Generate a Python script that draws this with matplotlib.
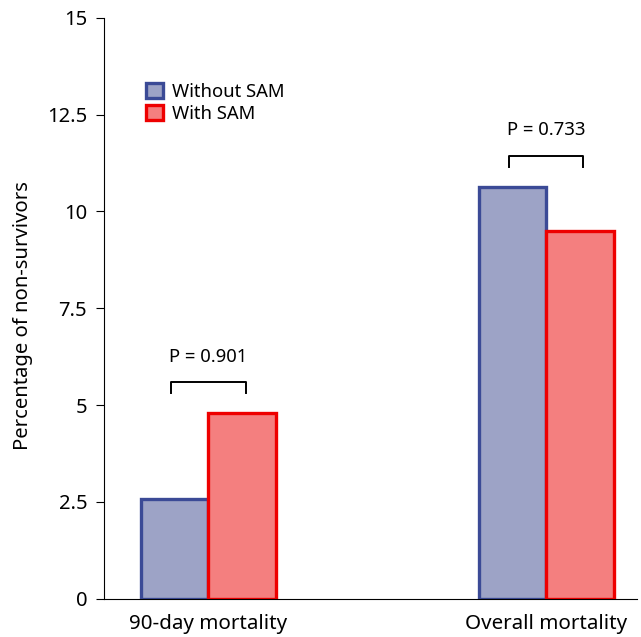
import matplotlib.pyplot as plt
import numpy as np

plt.rcParams['font.family'] = ['Noto Sans', 'DejaVu Sans']

categories = ["90-day mortality", "Overall mortality"]
without_sam = [2.58, 10.64]
with_sam = [4.80, 9.50]
p_values = ["P = 0.901", "P = 0.733"]

x = np.arange(len(categories))
w = 0.2

fig = plt.figure(figsize=(6.41, 6.37), dpi=100)
ax = fig.add_axes([0.162, 0.06, 0.832, 0.912])

ax.bar(x - w/2, without_sam, width=w, color='#9da3c6', edgecolor='#3b4a96',
       linewidth=2.4, label="Without SAM", zorder=2)
ax.bar(x + w/2, with_sam, width=w, color='#f47f7f', edgecolor='#ee0000',
       linewidth=2.4, label="With SAM", zorder=2)

# p-value brackets above each group
for i in range(len(categories)):
    top = max(without_sam[i], with_sam[i]) + 0.8
    ax.plot([x[i] - 0.11, x[i] - 0.11, x[i] + 0.11, x[i] + 0.11],
            [top - 0.28, top, top, top - 0.28], color='black', lw=1.4)
    ax.text(x[i], top + 0.42, p_values[i], ha='center', va='bottom', fontsize=13.3)

ax.set_xlim(-0.31, 1.27)
ax.set_ylim(0, 15)
ax.set_yticks([0, 2.5, 5, 7.5, 10, 12.5, 15])
ax.set_yticklabels(["0", "2.5", "5", "7.5", "10", "12.5", "15"])
ax.set_xticks(x)
ax.set_xticklabels(categories, fontsize=14.8)
ax.tick_params(axis='x', length=0, pad=11)
ax.tick_params(axis='y', length=6, labelsize=14.5, pad=6)
ax.spines['top'].set_visible(False)
ax.spines['right'].set_visible(False)
ax.set_ylabel("Percentage of non-survivors", fontsize=14.6)
ax.yaxis.set_label_coords(-0.132, 0.487)

ax.legend(loc='upper left', bbox_to_anchor=(0.055, 0.91), frameon=False,
          fontsize=13.3, handlelength=0.9, handleheight=0.9, handletextpad=0.5,
          labelspacing=0.2, borderpad=0.2)

plt.savefig("out.png", dpi=100)
